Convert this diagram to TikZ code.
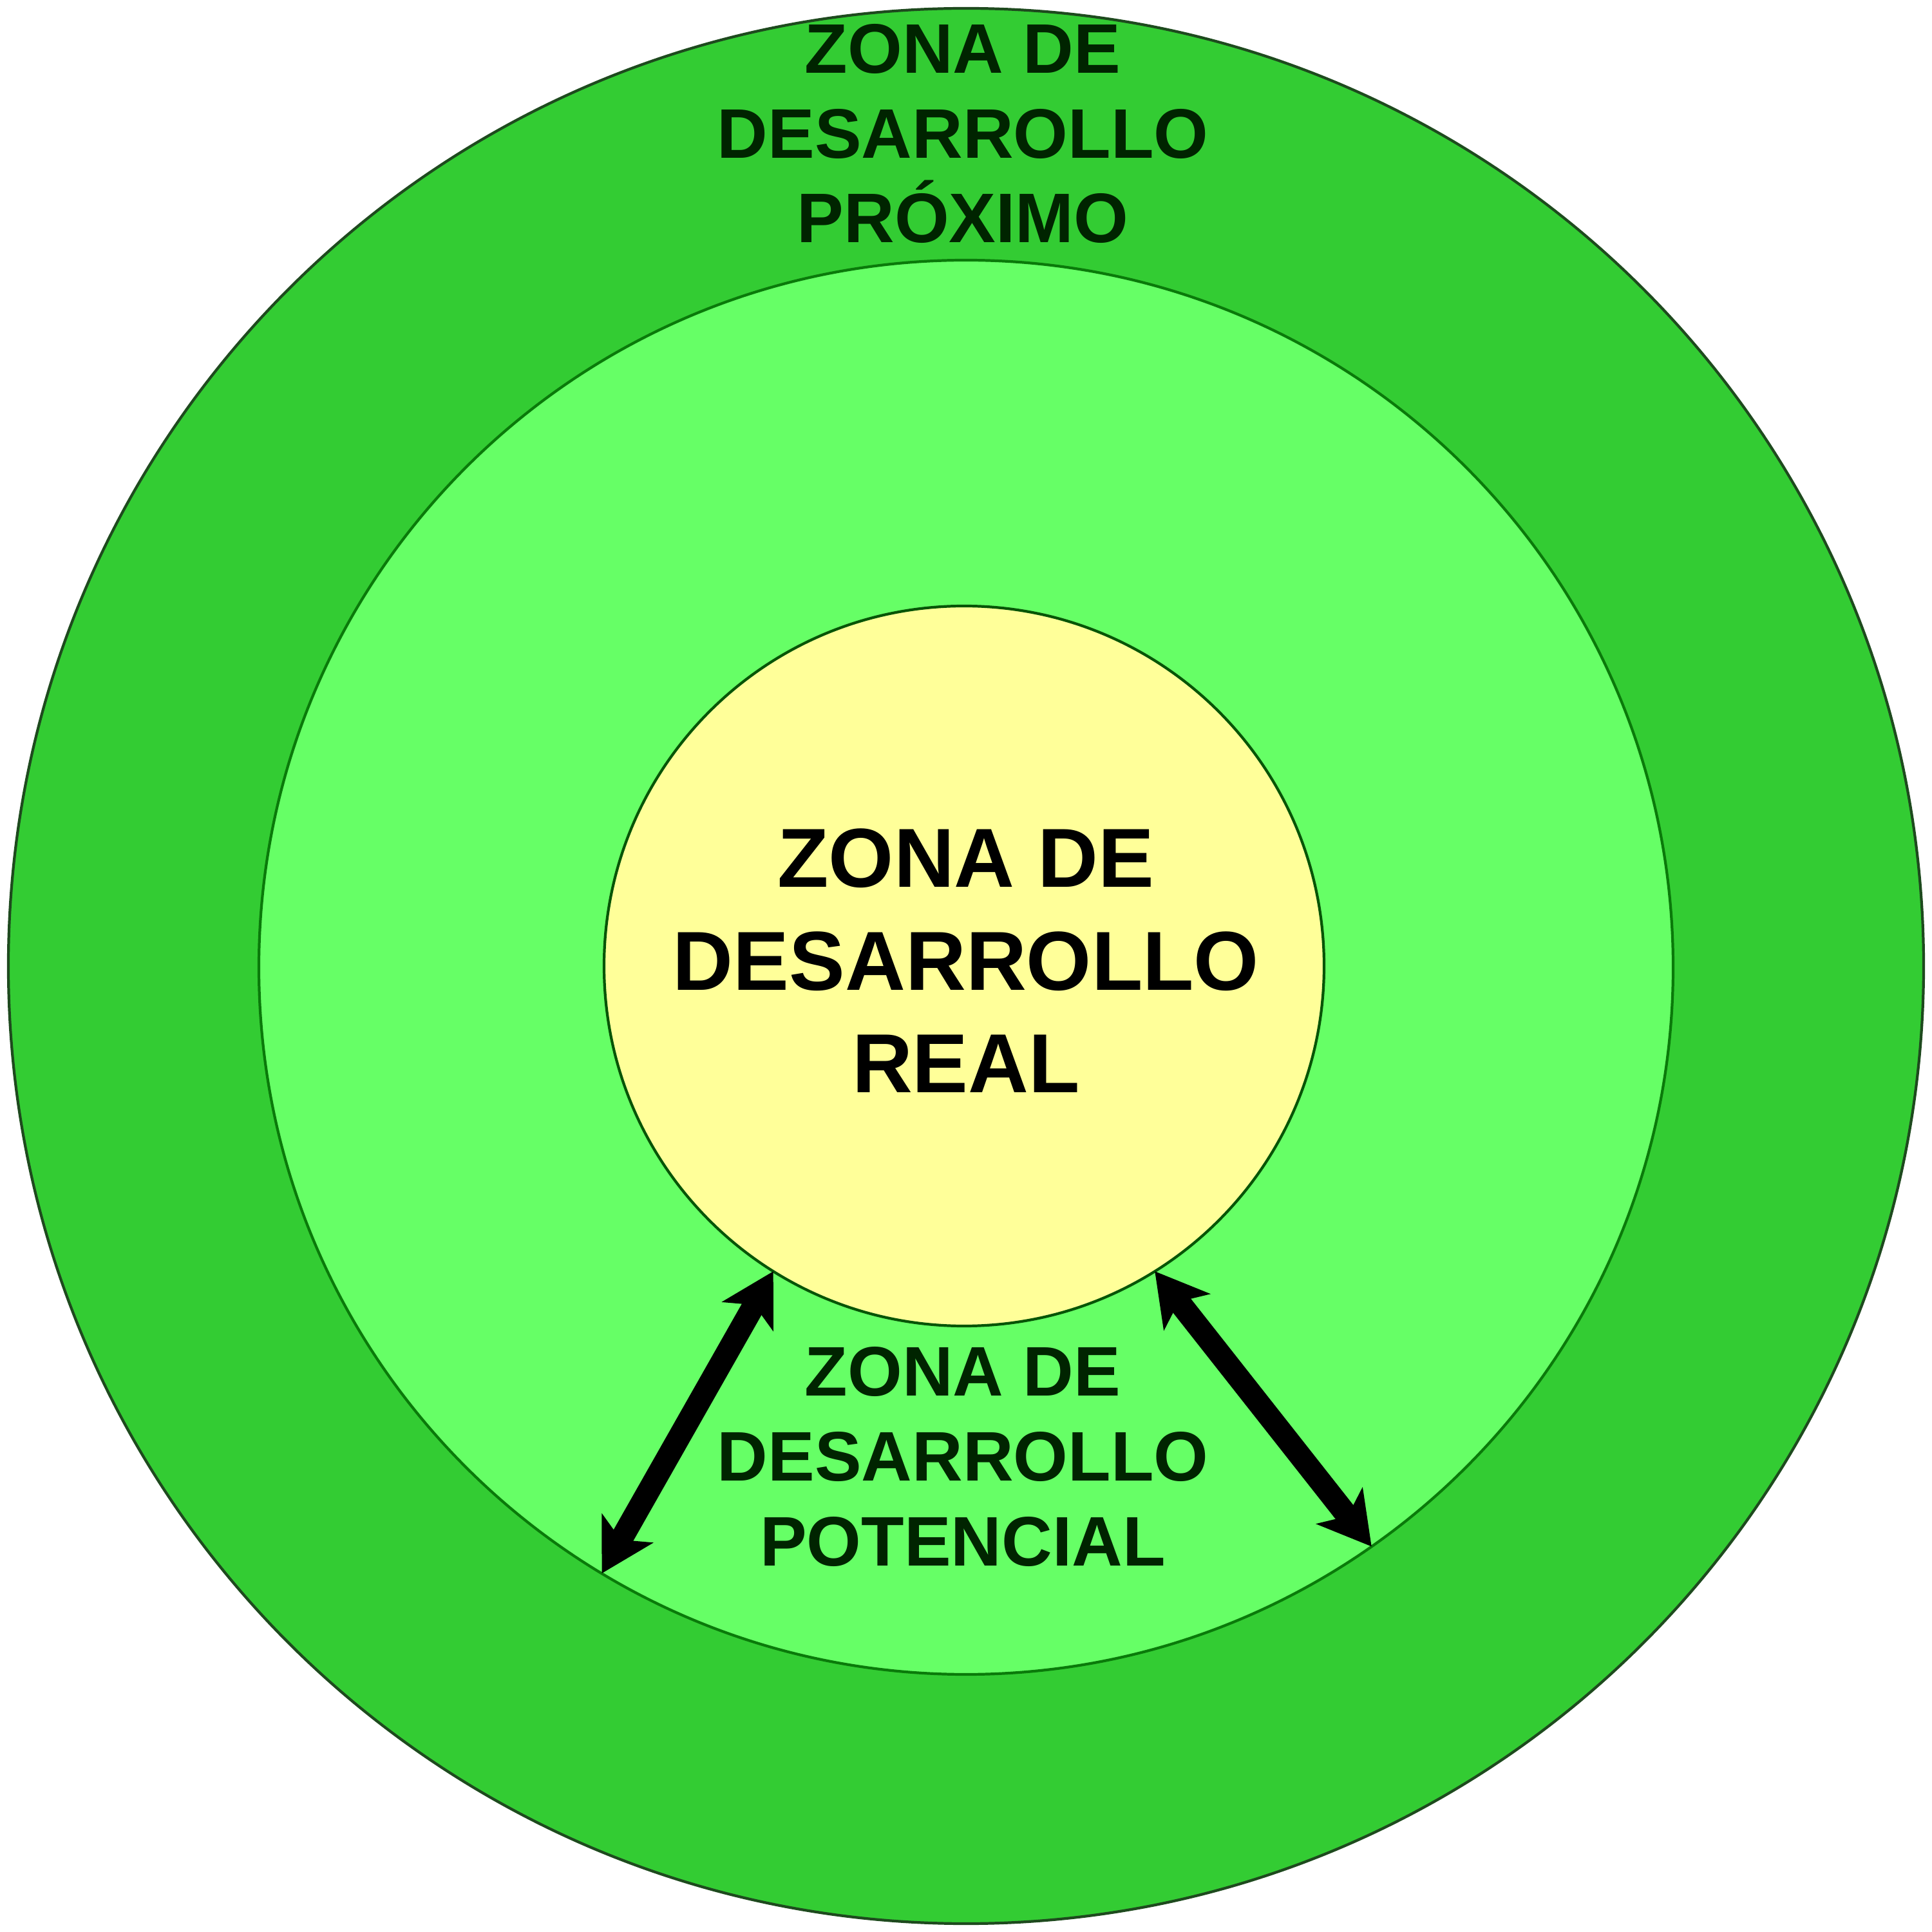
\documentclass[tikz,border=0pt]{standalone}
\usepackage{fontspec}
\setmainfont{Liberation Sans}
\usetikzlibrary{arrows.meta}
\definecolor{verdeosc}{HTML}{33CC33}
\definecolor{verdecla}{HTML}{66FF66}
\definecolor{amarillo}{HTML}{FFFF99}
\definecolor{bordeext}{HTML}{1E4A1E}
\definecolor{bordeint}{HTML}{0A7A0A}
\definecolor{textoz}{HTML}{002400}
\begin{document}
\begin{tikzpicture}[line join=round, >={Stealth[length=8mm,width=9mm,inset=2mm]},
	zona/.style={circle, line width=1.2pt, inner sep=0pt, outer sep=0pt},
	rotulo/.style={align=center, anchor=base, font=\bfseries\fontsize{31}{37.5}\selectfont, text=textoz},
	flecha/.style={<->, line width=10pt}]
	\useasboundingbox (-15,-15) rectangle (15,15);
	\node[zona, draw=bordeext, fill=verdeosc, minimum size=29.74cm] (proximo) at (0,0) {};
	\node[zona, draw=bordeint, fill=verdecla, minimum size=21.96cm] (potencial) at (0,-0.02) {};
	\node[zona, draw=bordeint!70!black, fill=amarillo, minimum size=11.18cm] (real) at (-0.03,0) {};
	\node[rotulo] (tproximo) at (-0.05,11.23) {ZONA DE\\DESARROLLO\\PRÓXIMO};
	\node[rotulo, text=black, font=\bfseries\fontsize{37}{45.5}\selectfont] (treal) at (0,-1.97) {ZONA DE\\DESARROLLO\\REAL};
	\node[rotulo] (tpotencial) at (-0.05,-9.31) {ZONA DE\\DESARROLLO\\POTENCIAL};
	\draw[flecha] (potencial.239) -- (real.238);
	\draw[flecha] (potencial.305) -- (real.302);
\end{tikzpicture}
\end{document}
